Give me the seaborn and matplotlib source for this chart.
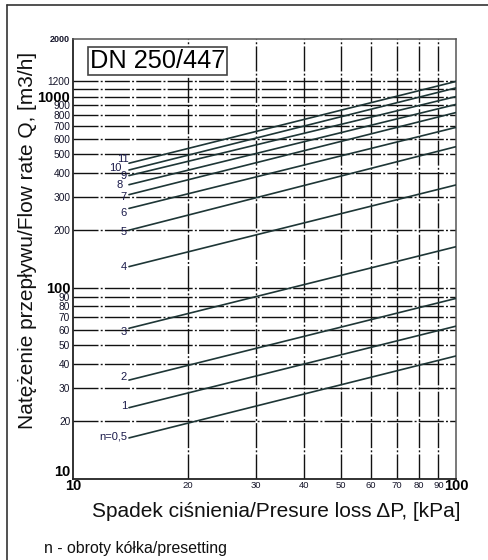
import numpy as np
import pandas as pd
import matplotlib
matplotlib.use("Agg")
import matplotlib.pyplot as plt
import seaborn as sns
from matplotlib.ticker import FixedLocator, NullLocator, FixedFormatter
from matplotlib.lines import Line2D

# ---------------- data ----------------
settings = ["n=0,5", "1", "2", "3", "4", "5", "6", "7", "8", "9", "10", "11"]
dp_start = 14
dp_end = 100
q_start = [16.4, 23.6, 32.9, 61.4, 129, 200, 260, 307, 346, 386, 413, 448]
q_end = [44, 63, 88, 164, 345, 547, 690, 825, 910, 1000, 1110, 1200]

y_ticks = [10, 20, 30, 40, 50, 60, 70, 80, 90, 100, 200, 300, 400, 500,
           600, 700, 800, 900, 1000, 1200, 2000]
y_tick_labels = [str(v) for v in y_ticks]
x_ticks = [10, 20, 30, 40, 50, 60, 70, 80, 90, 100]
x_tick_labels = [str(v) for v in x_ticks]
h_grid = [20, 30, 40, 50, 60, 70, 80, 90, 100, 200, 300, 400, 500, 600,
          700, 800, 900, 1000, 1100, 1200]
v_grid = [20, 30, 40, 50, 60, 70, 80, 90]
bold_ticks = ["10", "100", "1000"]

title_text = "DN 250/447"
x_label = "Spadek ciśnienia/Presure loss ΔP, [kPa]"
y_label = "Natężenie przepływu/Flow rate Q, [m3/h]"
note_text = "n - obroty kółka/presetting"

# label offsets (pixels) relative to each line's start point
label_dx = [-2, -2, -2, -2, -2, -2, -2, -2, -6, -2, -7, 0]
label_dy = [1, 2, 3, -4, 0, -2, -5, -2, 0, 0, 2, 4]

rows = []
for s, a, b in zip(settings, q_start, q_end):
    rows.append({"setting": s, "dp": dp_start, "q": a})
    rows.append({"setting": s, "dp": dp_end, "q": b})
df = pd.DataFrame(rows)

# ---------------- style ----------------
sns.set_style("white")
plt.rcParams["font.family"] = ["Liberation Sans", "DejaVu Sans"]
plt.rcParams["lines.scale_dashes"] = False

fig = plt.figure(figsize=(4.88, 5.6), dpi=100)
W, H = 488, 560
ax_l, ax_r, ax_t, ax_b = 73, 456, 39, 479
ax = fig.add_axes([ax_l / W, (H - ax_b) / H, (ax_r - ax_l) / W, (ax_b - ax_t) / H])

ax.set_xscale("log")
ax.set_yscale("log")
ax.set_xlim(10, 100)
ax.set_ylim(10, 2000)

grid_dash = (0, (18, 1.6, 1.4, 1.6))
for v in h_grid:
    ax.axhline(v, color="#111111", lw=1.0, ls=grid_dash, zorder=1)
for v in v_grid:
    ax.axvline(v, color="#111111", lw=1.0, ls=grid_dash, zorder=1)

line_color = "#1e3636"
sns.lineplot(data=df, x="dp", y="q", hue="setting", palette=[line_color] * len(settings),
             legend=False, lw=1.2, ax=ax, sort=False, estimator=None, zorder=3)

for s, q0, dx, dy in zip(settings, q_start, label_dx, label_dy):
    ax.annotate(s, xy=(dp_start, q0), xytext=(dx, dy), textcoords="offset pixels",
                ha="right", va="center", fontsize=8, color="#1a1a4a", zorder=4)

# ticks
ax.xaxis.set_major_locator(FixedLocator(x_ticks))
ax.xaxis.set_major_formatter(FixedFormatter(x_tick_labels))
ax.xaxis.set_minor_locator(NullLocator())
ax.yaxis.set_major_locator(FixedLocator(y_ticks))
ax.yaxis.set_major_formatter(FixedFormatter(y_tick_labels))
ax.yaxis.set_minor_locator(NullLocator())
ax.tick_params(axis="both", which="both", length=0)
ax.tick_params(axis="y", pad=2, labelsize=7.3, labelcolor="#15152a")
ax.tick_params(axis="x", pad=5, labelsize=6.8, labelcolor="#15152a")

fig.canvas.draw()
for lab in ax.get_yticklabels():
    t = lab.get_text()
    if t in bold_ticks:
        lab.set_fontsize(10.5)
        lab.set_fontweight("bold")
        lab.set_color("black")
    if t == "10":
        lab.set_va("bottom")
    if t == "2000":
        lab.set_fontweight("bold")
        lab.set_fontsize(6.5)
for lab in ax.get_xticklabels():
    lab.set_va("center")
    t = lab.get_text()
    if t in bold_ticks:
        lab.set_fontsize(10.5)
        lab.set_fontweight("bold")
        lab.set_color("black")

# spines
for side in ["left", "bottom"]:
    ax.spines[side].set_color("#222222")
    ax.spines[side].set_linewidth(1.3)
for side in ["top", "right"]:
    ax.spines[side].set_color("#555555")
    ax.spines[side].set_linewidth(1.1)

ax.set_xlabel(x_label, fontsize=15, color="#111111")
ax.set_ylabel(y_label, fontsize=15, color="#111111")
ax.xaxis.set_label_coords(0.53, -0.052)
ax.yaxis.set_label_coords(-0.095, 0.543)

ax.text(0.044, 0.95, title_text, transform=ax.transAxes, fontsize=18.3,
        ha="left", va="center", color="black", zorder=5,
        bbox=dict(boxstyle="square,pad=0.08", facecolor="white", edgecolor="#444444", lw=1.2))

fig.text(44 / W, 1 - 548 / H, note_text, fontsize=11.4, ha="left", va="center", color="#111111")

# outer frame (left and top edges)
fig.add_artist(Line2D([7 / W, 7 / W], [0, 1 - 5 / H], transform=fig.transFigure,
                      color="#333333", lw=1.2))
fig.add_artist(Line2D([7 / W, 1], [1 - 5 / H, 1 - 5 / H], transform=fig.transFigure,
                      color="#333333", lw=1.2))

fig.savefig("out.png", dpi=100)
